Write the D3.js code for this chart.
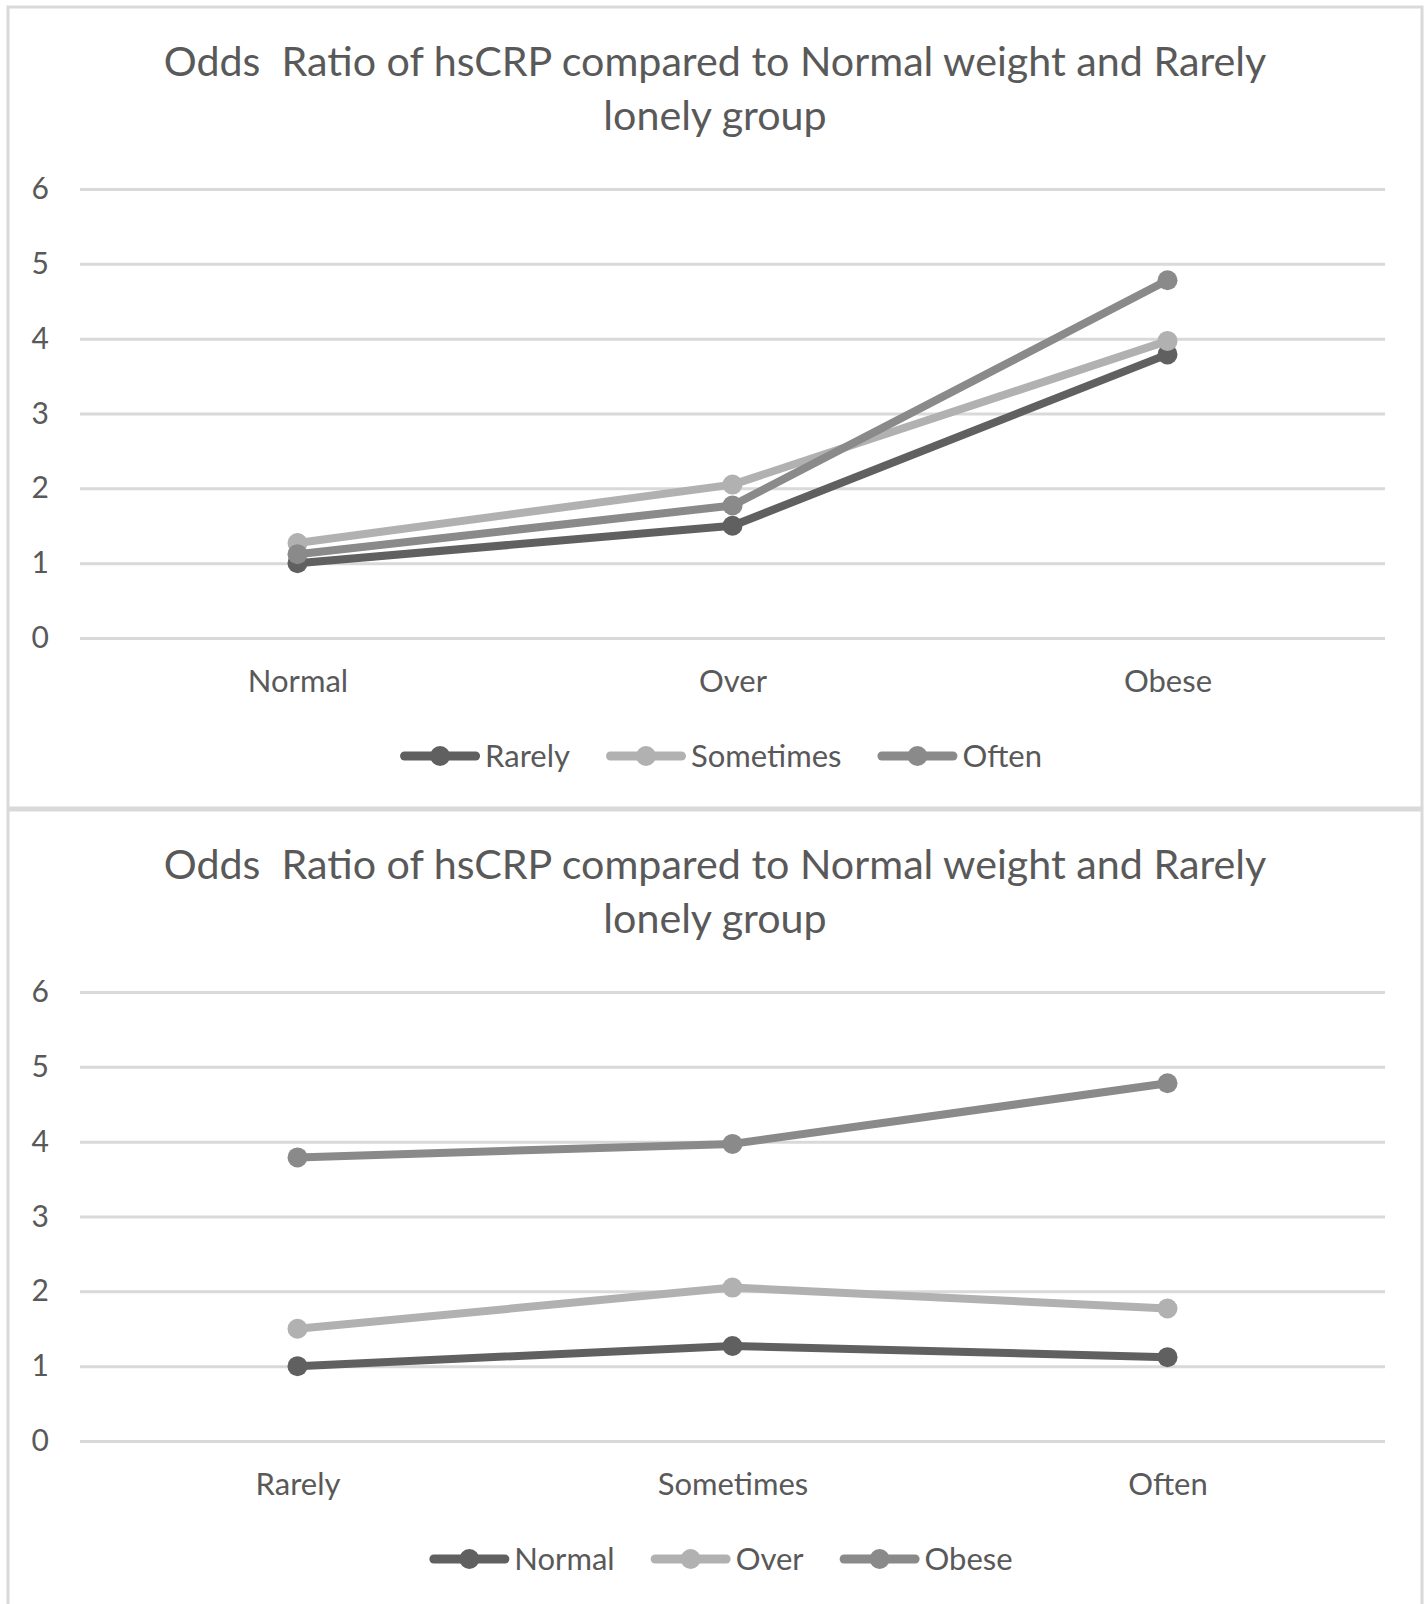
<!DOCTYPE html>
<html>
<head>
<meta charset="utf-8">
<script src="https://cdn.jsdelivr.net/npm/d3@7"></script>
<style>
  body { margin: 0; background: #fff; }
  svg { display: block; }
  text { font-family: Lato, "Open Sans", sans-serif; fill: #595959; }
</style>
</head>
<body>
<svg id="chart" width="1426" height="1604"></svg>
<script>
// Chart text
const titleLines = ["Odds  Ratio of hsCRP compared to Normal weight and Rarely", "lonely group"];
// Categories
const weightGroups = ["Normal", "Over", "Obese"];
const lonelyGroups = ["Rarely", "Sometimes", "Often"];
// Odds ratio of hsCRP per weight group, across Rarely / Sometimes / Often lonely
const orNormal = [1.00, 1.27, 1.12];
const orOver   = [1.50, 2.05, 1.77];
const orObese  = [3.79, 3.97, 4.78];
// Value axis ticks
const yTicks = [0, 1, 2, 3, 4, 5, 6];
// Series colours (first, second, third series)
const seriesColors = ["#606060", "#b1b1b1", "#8a8a8a"];

const svg = d3.select("#chart");
const plotLeft = 80, plotRight = 1385;
const gridTop = 189, gridBottom = 638;

function drawPanel(offsetY, panelHeight, categories, series) {
  const g = svg.append("g").attr("transform", `translate(0,${offsetY})`);

  // chart-area border
  g.append("rect")
    .attr("x", 8).attr("y", 7)
    .attr("width", 1414).attr("height", panelHeight)
    .attr("fill", "#fff").attr("stroke", "#d9d9d9").attr("stroke-width", 3);

  // title, fitted to its line width
  const titleG = g.append("g");
  const titleBase = [76, 130];
  const t0 = titleG.append("text")
    .attr("x", 715).attr("y", titleBase[0])
    .attr("text-anchor", "middle")
    .style("white-space", "pre")
    .style("font-size", "40px")
    .text(titleLines[0]);
  const fs = 40 * 1103 / t0.node().getComputedTextLength();
  t0.style("font-size", fs + "px");
  titleG.append("text")
    .attr("x", 715).attr("y", titleBase[1])
    .attr("text-anchor", "middle")
    .style("font-size", fs + "px")
    .text(titleLines[1]);

  const x = d3.scalePoint().domain(categories).range([plotLeft, plotRight]).padding(0.5);
  const y = d3.scaleLinear().domain([0, 6]).range([gridBottom, gridTop]);

  // value axis with gridlines
  const yAxis = g.append("g")
    .attr("transform", `translate(${plotLeft},0)`)
    .call(d3.axisLeft(y).tickValues(yTicks).tickFormat(d3.format("d"))
      .tickSize(-(plotRight - plotLeft)).tickPadding(31));
  yAxis.select(".domain").remove();
  yAxis.selectAll(".tick line").attr("stroke", "#d9d9d9").attr("stroke-width", 3);
  yAxis.selectAll(".tick text")
    .attr("fill", "#595959")
    .style("font-family", "Lato, 'Open Sans', sans-serif")
    .style("font-size", "30px");

  // category axis
  const xAxis = g.append("g")
    .attr("transform", `translate(0,${gridBottom})`)
    .call(d3.axisBottom(x).tickSize(0).tickPadding(32));
  xAxis.select(".domain").remove();
  xAxis.selectAll(".tick text")
    .attr("fill", "#595959")
    .style("font-family", "Lato, 'Open Sans', sans-serif")
    .style("font-size", "31px");

  // series lines and markers
  const line = d3.line().x((d, i) => x(categories[i])).y(d => y(d));
  series.forEach((s, si) => {
    g.append("path")
      .datum(s.values)
      .attr("d", line)
      .attr("fill", "none")
      .attr("stroke", seriesColors[si])
      .attr("stroke-width", 8)
      .attr("stroke-linejoin", "round")
      .attr("stroke-linecap", "round");
    g.selectAll(null)
      .data(s.values)
      .join("circle")
      .attr("cx", (d, i) => x(categories[i]))
      .attr("cy", d => y(d))
      .attr("r", 10)
      .attr("fill", seriesColors[si]);
  });

  // legend
  const legendY = 756;
  const symW = 80, symGap = 5, itemGap = 36;
  const legend = g.append("g");
  let cursor = 0;
  series.forEach((s, si) => {
    const item = legend.append("g");
    item.append("line")
      .attr("x1", 4.5).attr("x2", symW - 4.5)
      .attr("y1", legendY).attr("y2", legendY)
      .attr("stroke", seriesColors[si]).attr("stroke-width", 9)
      .attr("stroke-linecap", "round");
    item.append("circle")
      .attr("cx", symW / 2).attr("cy", legendY).attr("r", 10)
      .attr("fill", seriesColors[si]);
    const txt = item.append("text")
      .attr("x", symW + symGap).attr("y", legendY + 11)
      .style("font-size", "31px")
      .text(s.name);
    const w = symW + symGap + txt.node().getComputedTextLength();
    item.attr("transform", `translate(${cursor},0)`);
    cursor += w + itemGap;
  });
  const total = cursor - itemGap;
  legend.attr("transform", `translate(${721 - total / 2},0)`);
}

// weight group on the category axis, one series per loneliness frequency
drawPanel(0, 801, weightGroups, lonelyGroups.map((name, j) => ({
  name, values: [orNormal[j], orOver[j], orObese[j]]
})));

// loneliness frequency on the category axis, one series per weight group
drawPanel(803, 820, lonelyGroups, [
  { name: weightGroups[0], values: orNormal },
  { name: weightGroups[1], values: orOver },
  { name: weightGroups[2], values: orObese }
]);
</script>
</body>
</html>
